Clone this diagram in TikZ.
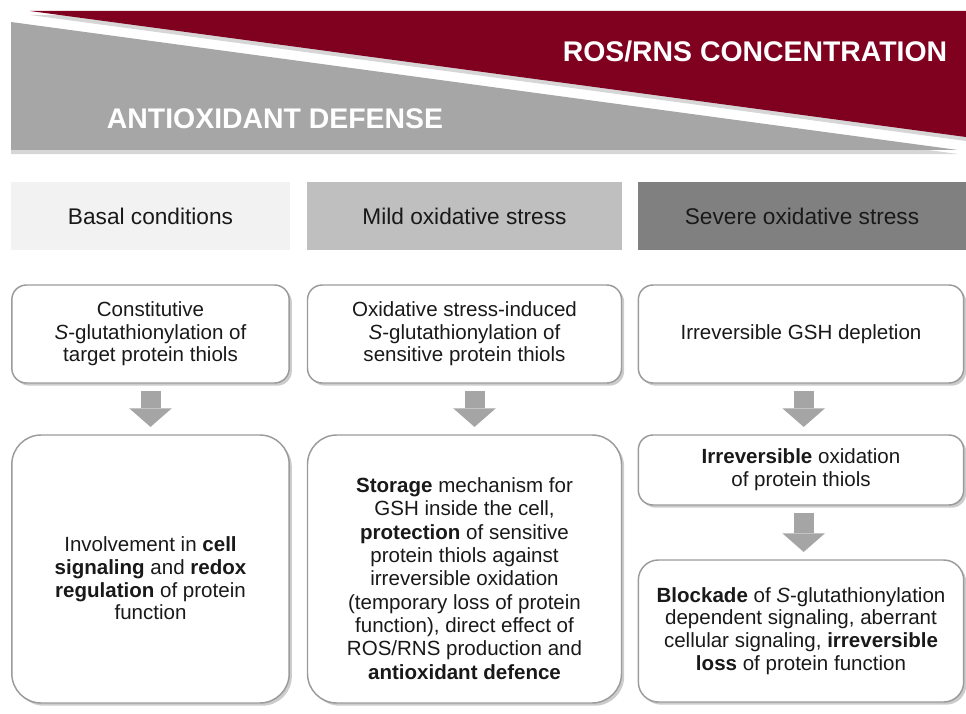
\documentclass[tikz,border=0pt]{standalone}
\usepackage{fontspec}
\setmainfont{Liberation Sans}
\usetikzlibrary{arrows.meta,shadows,positioning}
\definecolor{rosred}{RGB}{128,0,32}
\definecolor{defgray}{RGB}{166,166,166}
\definecolor{basalgray}{RGB}{242,242,242}
\definecolor{mildgray}{RGB}{191,191,191}
\definecolor{severegray}{RGB}{128,128,128}
\definecolor{boxline}{RGB}{155,155,155}
\definecolor{txtgray}{RGB}{25,25,25}
\definecolor{arrowgray}{RGB}{165,165,165}

\tikzset{
  stagehead/.style={minimum height=51pt, inner sep=0pt, text=txtgray,
    font=\fontsize{17}{20}\selectfont},
  boxtext/.style={align=center, inner sep=0pt, text=txtgray,
    font=\fontsize{15.4}{17}\selectfont},
  fxbox/.style={boxtext, draw=boxline, line width=1.1pt, fill=white, rounded corners=11pt,
    drop shadow={shadow xshift=2pt, shadow yshift=-2pt, fill=black!40, opacity=0.5}},
  bigbox/.style={fxbox, rounded corners=22pt},
  downarrow/.style={arrowgray, line width=15pt, shorten <=5.5pt, shorten >=5.5pt,
    -{Triangle[width=32pt,length=14pt,line width=0pt]}},
  banner/.style={white, font=\fontsize{21.3}{24}\selectfont\bfseries}
}

\begin{document}
\begin{tikzpicture}[x=0.75pt, y=-0.75pt]
\useasboundingbox (0,0) rectangle (966,713);

% top wedges
\fill[defgray, drop shadow={shadow xshift=0pt, shadow yshift=-3pt, fill=black!40, opacity=0.4}]
  (11,22) -- (958,150) -- (11,150) -- cycle;
\fill[rosred, drop shadow={shadow xshift=0pt, shadow yshift=-3pt, fill=black!40, opacity=0.4}]
  (30,11) -- (966,11) -- (966,137) -- cycle;
\node[banner] (ros) at (755,51) {ROS/RNS CONCENTRATION};
\node[banner] (defense) at (275,119) {ANTIOXIDANT DEFENSE};

% stage headers
\node[stagehead, fill=basalgray, minimum width=209.25pt] (basal) at (150.5,216) {Basal conditions};
\node[stagehead, fill=mildgray, minimum width=236.25pt] (mild) at (464.5,216) {Mild oxidative stress};
\node[stagehead, fill=severegray, minimum width=246pt] (severe) at (802,216) {Severe oxidative stress};

% basal column
\node[fxbox, minimum width=208pt, minimum height=73.5pt] (b1) at (150.5,334)
  {Constitutive\\ \textit{S}-glutathionylation of\\ target protein thiols};
\node[bigbox, minimum width=208pt, minimum height=201pt] (b2) at (150.5,569) {};
\node[boxtext] (b2t) at ([yshift=-7pt]b2.center)
  {Involvement in \textbf{cell}\\ \textbf{signaling} and \textbf{redox}\\ \textbf{regulation} of protein\\ function};

% mild column
\node[fxbox, minimum width=235.5pt, minimum height=73.5pt] (m1) at (464.5,334)
  {Oxidative stress-induced\\ \textit{S}-glutathionylation of\\ sensitive protein thiols};
\node[bigbox, minimum width=235.5pt, minimum height=201pt] (m2) at (464.5,569) {};
\node[boxtext, font=\fontsize{15.4}{17.5}\selectfont] (m2t) at ([yshift=-7pt]m2.center)
  {\textbf{Storage} mechanism for\\ GSH inside the cell,\\ \textbf{protection} of sensitive\\
   protein thiols against\\ irreversible oxidation\\ (temporary loss of protein\\
   function), direct effect of\\ ROS/RNS production and\\ \textbf{antioxidant defence}};

% severe column
\node[fxbox, minimum width=244pt, minimum height=73.5pt] (s1) at (801,334)
  {Irreversible GSH depletion};
\node[fxbox, minimum width=244pt, minimum height=52.5pt] (s2) at (801,470)
  {\textbf{Irreversible} oxidation\\ of protein thiols};
\node[fxbox, rounded corners=15pt, minimum width=244pt, minimum height=106.5pt] (s3) at (801,631)
  {\textbf{Blockade} of \textit{S}-glutathionylation\\ dependent signaling, aberrant\\
   cellular signaling, \textbf{irreversible}\\ \textbf{loss} of protein function};

% arrows
\draw[downarrow] (b1.south) -- (b2.north);
\draw[downarrow] ([xshift=7.5pt]m1.south) -- ([xshift=7.5pt]m2.north);
\draw[downarrow] ([xshift=2pt]s1.south) -- ([xshift=2pt]s2.north);
\draw[downarrow] ([xshift=2pt]s2.south) -- ([xshift=2pt]s3.north);
\end{tikzpicture}
\end{document}
